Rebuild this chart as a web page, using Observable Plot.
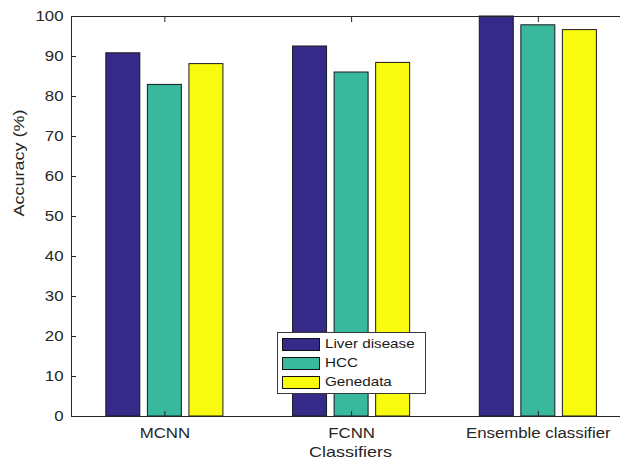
<!DOCTYPE html>
<html>
<head>
<meta charset="utf-8">
<script src="https://cdn.jsdelivr.net/npm/d3@7"></script>
<script src="https://cdn.jsdelivr.net/npm/@observablehq/plot@0.6"></script>
<style>
  body { margin: 0; background: #fff; }
  #wrap { position: relative; width: 621px; height: 464px; overflow: hidden; }
  .legend { position: absolute; left: 277px; top: 332px; width: 149px; height: 62px;
    border: 1px solid #3a3a3a; background: #fff; box-sizing: border-box;
    font: 13px "Liberation Sans", Arial, sans-serif; color: #1a1a1a; }
  .row { position: absolute; left: 4px; height: 14px; }
  .sw { position: absolute; left: 0; top: 0; width: 38px; height: 13px; border: 1px solid #111; box-sizing: border-box; }
  .lab { position: absolute; left: 43px; top: -2px; white-space: nowrap; display: inline-block;
    transform: scaleX(1.17); transform-origin: left center; }
</style>
</head>
<body>
<div id="wrap"></div>
<script>
const classifiers = ["MCNN", "FCNN", "Ensemble classifier"];
const seriesNames = ["Liver disease", "HCC", "Genedata"];
const liverDisease = [90.8, 92.5, 100];
const hcc = [82.9, 86.0, 97.8];
const genedata = [88.1, 88.4, 96.6];
const seriesColors = ["#352a87", "#38b99e", "#f9fb0e"];
const yTicks = [0, 10, 20, 30, 40, 50, 60, 70, 80, 90, 100];
const xTicks = [1, 2, 3];

const allSeries = [liverDisease, hcc, genedata];
const offsets = [-0.2225, 0, 0.2225];
const halfW = 0.091;
const table = [];
classifiers.forEach((c, gi) => {
  allSeries.forEach((vals, si) => {
    table.push({group: gi + 1, series: seriesNames[si], si, value: vals[gi]});
  });
});

const noText = () => "";
const chart = Plot.plot({
  width: 621,
  height: 464,
  marginLeft: 71,
  marginRight: 1,
  marginTop: 16,
  marginBottom: 48,
  style: { fontFamily: "'Liberation Sans', Arial, sans-serif", fontSize: "14px", color: "#262626", background: "#fff" },
  x: { type: "linear", domain: [0.5, 3.44] },
  y: { domain: [0, 100] },
  color: { domain: seriesNames, range: seriesColors },
  marks: [
    Plot.rectY(table, {
      x1: d => d.group + offsets[d.si] - halfW,
      x2: d => d.group + offsets[d.si] + halfW,
      y1: 0,
      y2: d => d.value,
      fill: d => d.series,
      stroke: "#1a1a1a",
      strokeWidth: 1
    }),
    Plot.ruleY([0], { stroke: "#262626" }),
    Plot.ruleY([100], { stroke: "#262626" }),
    Plot.ruleX([0.5], { stroke: "#262626" }),
    Plot.axisY({ ticks: yTicks, tickSize: 0, tickPadding: 8, label: null }),
    Plot.axisY({ ticks: yTicks, tickSize: 5, dx: 5, tickFormat: noText, label: null, stroke: "#262626" }),
    Plot.axisX({ ticks: xTicks, anchor: "bottom", tickSize: 0, tickPadding: 12, tickFormat: d => classifiers[d - 1], label: null }),
    Plot.axisX({ ticks: xTicks, anchor: "bottom", tickSize: 5, dy: -5, tickFormat: noText, label: null, stroke: "#262626" }),
    Plot.axisX({ ticks: xTicks, anchor: "top", tickSize: 5, dy: 5, tickFormat: noText, label: null, stroke: "#262626" }),
    Plot.text(["Accuracy (%)"], { frameAnchor: "left", dx: -52, rotate: -90, fontSize: 15, fill: "#262626" }),
    Plot.text(["Classifiers"], { frameAnchor: "bottom", dy: 40, dx: 4.5, fontSize: 15, fill: "#262626" })
  ]
});

const wrap = document.getElementById("wrap");
wrap.appendChild(chart);

// horizontal stretch of text to match the reference's aspect
d3.select(chart).selectAll("text").each(function() {
  const t = this.textContent;
  if (!t || !t.trim()) return;
  const w = this.getComputedTextLength();
  this.setAttribute("textLength", (w * 1.2).toFixed(2));
  this.setAttribute("lengthAdjust", "spacingAndGlyphs");
});

// legend
const legend = document.createElement("div");
legend.className = "legend";
seriesNames.forEach((name, i) => {
  const row = document.createElement("div");
  row.className = "row";
  row.style.top = (5 + i * 19) + "px";
  const sw = document.createElement("span");
  sw.className = "sw";
  sw.style.background = seriesColors[i];
  const lab = document.createElement("span");
  lab.className = "lab";
  lab.textContent = name;
  row.appendChild(sw);
  row.appendChild(lab);
  legend.appendChild(row);
});
wrap.appendChild(legend);
</script>
</body>
</html>
